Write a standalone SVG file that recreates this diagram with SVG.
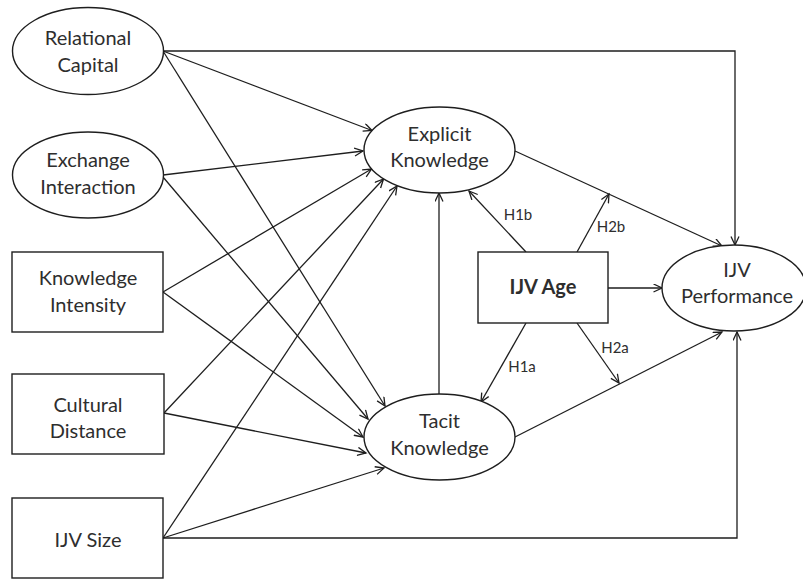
<svg xmlns="http://www.w3.org/2000/svg" width="803" height="579" viewBox="0 0 803 579">
<defs>
<marker id="arr" markerUnits="userSpaceOnUse" markerWidth="12" markerHeight="12" refX="9" refY="4.5" orient="auto">
<path d="M0.5,0.5 L9,4.5 L0.5,8.5" fill="none" stroke="#1e1e1e" stroke-width="1.3"/>
</marker>
</defs>
<style>
.shape{fill:#fff;stroke:#1e1e1e;stroke-width:1.4}
.lbl{font-family:"Lato","Liberation Sans",sans-serif;font-size:20px;fill:#2e2e2e;text-anchor:middle}
.bold{font-weight:bold}
.h{font-family:"Lato","Liberation Sans",sans-serif;font-size:15px;fill:#2e2e2e;text-anchor:middle}
.c{fill:none;stroke:#1e1e1e;stroke-width:1.3}
.a{marker-end:url(#arr)}
</style>
<rect width="803" height="579" fill="#fff"/>
<g id="connectors">
<path class="c a" d="M163,51 H735 V245"/>
<path class="c a" d="M163,51 L372,130.5"/>
<path class="c a" d="M163,51 L385,406"/>
<path class="c a" d="M163,175 L363,151"/>
<path class="c a" d="M163,177 L368,419"/>
<path class="c a" d="M163,292 L371.5,169"/>
<path class="c a" d="M163,292 L363,437"/>
<path class="c a" d="M164,413 L383.5,179"/>
<path class="c a" d="M164,413 L366,453"/>
<path class="c a" d="M163,538 L397,186"/>
<path class="c a" d="M163,538 L384,468"/>
<path class="c a" d="M163,538 H737 V332"/>
<path class="c a" d="M439,394 V193"/>
<path class="c a" d="M526,252 L469,191"/>
<path class="c a" d="M577,252 L609,194"/>
<path class="c a" d="M515,151 L722,246"/>
<path class="c a" d="M608,288 H662"/>
<path class="c a" d="M526,323 L481,402"/>
<path class="c a" d="M577,323 L619,383"/>
<path class="c a" d="M515,437 L722,332"/>
<text class="h" x="518" y="220">H1b</text>
<text class="h" x="611" y="232">H2b</text>
<text class="h" x="522" y="372">H1a</text>
<text class="h" x="615" y="353">H2a</text>
</g>
<g id="relational-capital">
<ellipse class="shape" cx="88" cy="51" rx="75.5" ry="43.5"/>
<text class="lbl" x="88" y="45">Relational</text>
<text class="lbl" x="88" y="72">Capital</text>
</g>
<g id="exchange-interaction">
<ellipse class="shape" cx="88" cy="175" rx="75.5" ry="43"/>
<text class="lbl" x="88" y="167">Exchange</text>
<text class="lbl" x="88" y="194">Interaction</text>
</g>
<g id="knowledge-intensity">
<rect class="shape" x="12" y="252" width="151" height="80"/>
<text class="lbl" x="88" y="285">Knowledge</text>
<text class="lbl" x="88" y="312">Intensity</text>
</g>
<g id="cultural-distance">
<rect class="shape" x="12" y="374" width="152" height="80"/>
<text class="lbl" x="88" y="412">Cultural</text>
<text class="lbl" x="88" y="438">Distance</text>
</g>
<g id="ijv-size">
<rect class="shape" x="12" y="498" width="151" height="80"/>
<text class="lbl" x="88" y="547">IJV Size</text>
</g>
<g id="explicit-knowledge">
<ellipse class="shape" cx="439.5" cy="150" rx="75.5" ry="43"/>
<text class="lbl" x="439.5" y="141">Explicit</text>
<text class="lbl" x="439.5" y="167">Knowledge</text>
</g>
<g id="tacit-knowledge">
<ellipse class="shape" cx="439.5" cy="437" rx="75.5" ry="43"/>
<text class="lbl" x="439.5" y="428">Tacit</text>
<text class="lbl" x="439.5" y="455">Knowledge</text>
</g>
<g id="ijv-age">
<rect class="shape" x="478" y="252" width="130" height="71"/>
<text class="lbl bold" x="543" y="294">IJV Age</text>
</g>
<g id="ijv-performance">
<ellipse class="shape" cx="734" cy="288" rx="72" ry="43"/>
<text class="lbl" x="737" y="277">IJV</text>
<text class="lbl" x="737" y="303">Performance</text>
</g>
</svg>
